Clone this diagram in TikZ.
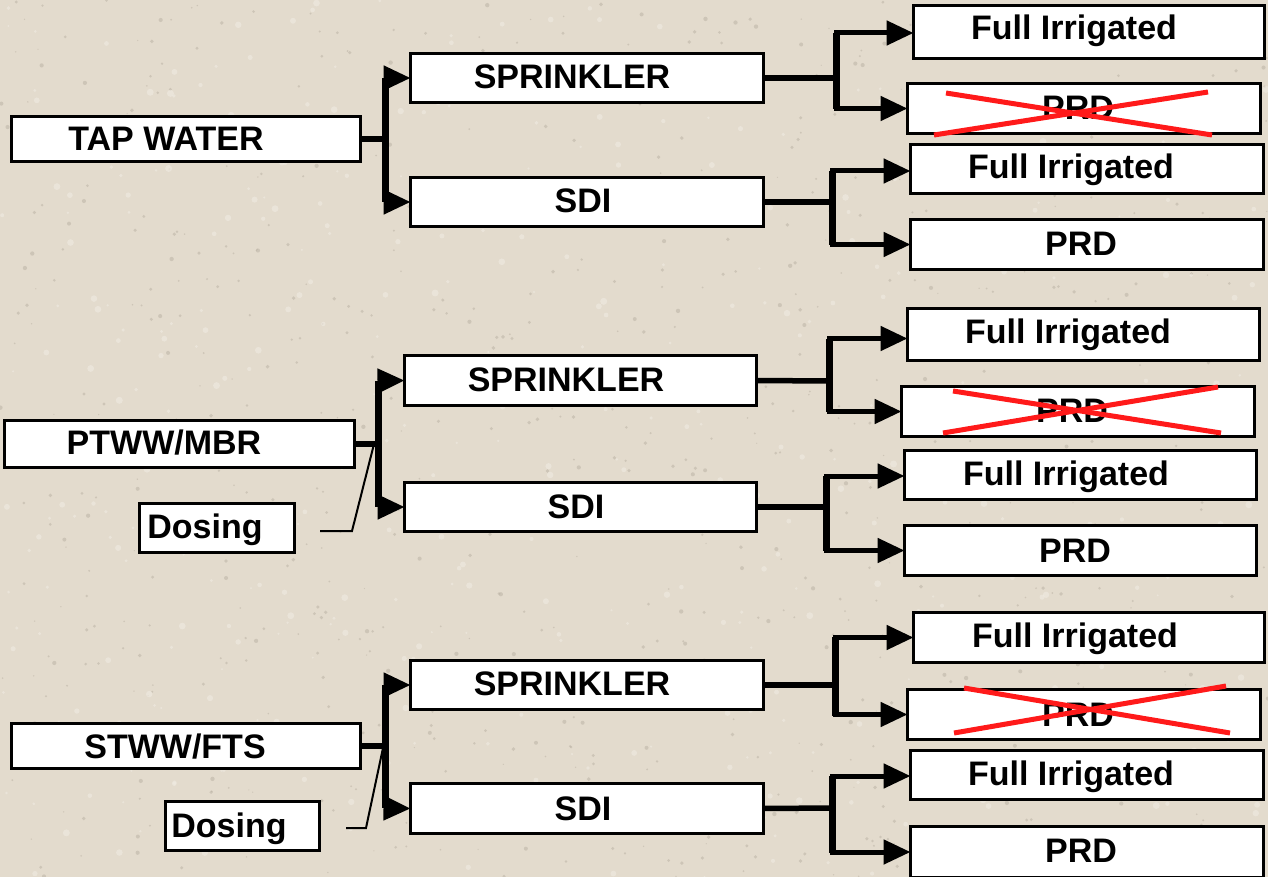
\documentclass[tikz,border=0pt]{standalone}
\usepackage{fontspec}
\setmainfont{Liberation Sans}
\usetikzlibrary{arrows.meta,calc}
\definecolor{bgc}{HTML}{E3DBCD}
\definecolor{speck}{HTML}{B9B0A2}
\definecolor{speckl}{HTML}{F0EBE2}
\definecolor{xred}{HTML}{FF1A1A}
\begin{document}
\begin{tikzpicture}[x=1pt,y=-1pt,
  box/.style={draw=black,line width=3pt,fill=white,inner sep=0pt,outer sep=0pt},
  lbl/.style={font=\fontsize{34}{36}\selectfont\bfseries,inner sep=0pt,text height=24pt,text depth=0pt},
  conn/.style={line width=5.5pt},
  bar/.style={line width=7pt},
  rbar/.style={line width=7pt},
  arr/.style={line width=5pt,-{Triangle[length=27pt,width=24pt]}},
  thinl/.style={line width=2pt},
  xline/.style={draw=xred,line width=5pt}]
\useasboundingbox (0,0) rectangle (1268,877);
\begin{scope}
\clip (0,0) rectangle (1268,877);
\fill[bgc] (0,0) rectangle (1268,877);
\pgfmathsetseed{17}
\foreach \i in {1,...,900}{
  \pgfmathsetmacro\px{rnd*1268}
  \pgfmathsetmacro\py{rnd*877}
  \pgfmathsetmacro\pr{0.6+rnd*1.6}
  \fill[speck,opacity=0.5] (\px,\py) circle[radius=\pr pt];
}
\foreach \i in {1,...,500}{
  \pgfmathsetmacro\px{rnd*1268}
  \pgfmathsetmacro\py{rnd*877}
  \pgfmathsetmacro\pr{1+rnd*2.5}
  \fill[speckl,opacity=0.6] (\px,\py) circle[radius=\pr pt];
}
\end{scope}
% ---------- group 1 ----------
\node[box,minimum width=349pt,minimum height=45pt] (tap) at (186,139) {};
\node[box,minimum width=353pt,minimum height=49pt] (spr1) at (587,78) {};
\node[box,minimum width=353pt,minimum height=49pt] (sdi1) at (587,202) {};
\node[box,minimum width=351pt,minimum height=53pt] (fi1a) at (1089,32) {};
\node[box,minimum width=353pt,minimum height=50pt] (prd1a) at (1084,108.5) {};
\node[box,minimum width=353pt,minimum height=49pt] (fi1b) at (1087,169) {};
\node[box,minimum width=353pt,minimum height=50pt] (prd1b) at (1087,244.5) {};
\node[lbl] (tapl) at (166,139) {TAP WATER};
\node[lbl] (spr1l) at (572,77) {SPRINKLER};
\node[lbl] (sdi1l) at (583,201) {SDI};
\node[lbl] (fi1al) at (1074,28) {Full Irrigated};
\node[lbl] (prd1al) at (1078,108) {PRD};
\node[lbl] (fi1bl) at (1071,167) {Full Irrigated};
\node[lbl] (prd1bl) at (1081,244) {PRD};
\draw[xline] (934,135) -- (1208,92);
\draw[xline] (946,93) -- (1212,135);
\coordinate (b1t) at (385,78);
\coordinate (b1b) at (385,202);
\draw[conn] (tap.east) -- (tap.east -| b1t);
\draw[bar] (b1t) -- (b1b);
\draw[arr] (b1t) -- (spr1.west);
\draw[arr] (b1b) -- (sdi1.west);
\coordinate (s1) at (836,78);
\draw[conn] (spr1.east) -- (s1);
\draw[rbar] (836,33) -- (836,109);
\draw[arr] (s1) |- ([yshift=-1pt]fi1a.west);
\draw[arr] (s1) |- (prd1a.west);
\coordinate (s2) at (832,202);
\draw[conn] (sdi1.east) -- (s2);
\draw[rbar] (832,171) -- (832,245);
\draw[arr] (s2) |- ([yshift=-2pt]fi1b.west);
\draw[arr] (s2) |- (prd1b.west);
% ---------- group 2 ----------
\node[box,minimum width=350pt,minimum height=47pt] (ptww) at (179.5,444) {};
\node[box,minimum width=155pt,minimum height=49pt] (dos2) at (217,528) {};
\node[box,minimum width=352pt,minimum height=50pt] (spr2) at (580.5,380.5) {};
\node[box,minimum width=352pt,minimum height=49pt] (sdi2) at (580.5,507) {};
\node[box,minimum width=352pt,minimum height=52pt] (fi2a) at (1083.5,334.5) {};
\node[box,minimum width=353pt,minimum height=50pt] (prd2a) at (1078,411.5) {};
\node[box,minimum width=352pt,minimum height=49pt] (fi2b) at (1080.5,475) {};
\node[box,minimum width=352pt,minimum height=50pt] (prd2b) at (1080.5,550.5) {};
\node[lbl] (ptwwl) at (164,442) {PTWW/MBR};
\node[lbl] (dos2l) at (205,526) {Dosing};
\node[lbl] (spr2l) at (566,379) {SPRINKLER};
\node[lbl] (sdi2l) at (576,506) {SDI};
\node[lbl] (fi2al) at (1068,331) {Full Irrigated};
\node[lbl] (prd2al) at (1072,410) {PRD};
\node[lbl] (fi2bl) at (1066,473) {Full Irrigated};
\node[lbl] (prd2bl) at (1075,550) {PRD};
\draw[xline] (943,433) -- (1218,387);
\draw[xline] (953,391) -- (1221,433);
\coordinate (b2t) at (378,381);
\coordinate (b2b) at (378,507);
\draw[conn] (ptww.east) -- (ptww.east -| b2t);
\draw[bar] (b2t) -- (b2b);
\draw[arr] (b2t) -- (spr2.west);
\draw[arr] (b2b) -- (sdi2.west);
\coordinate (d2a) at (320,531);
\coordinate (d2b) at (352,531);
\coordinate (d2c) at (374,444);
\draw[thinl] (d2a) -- (d2b) -- (d2c);
\coordinate (s3) at (829,381);
\draw[conn] (spr2.east) -- (s3);
\draw[rbar] (829,339) -- (829,412);
\draw[arr] (s3) |- ([yshift=-4pt]fi2a.west);
\draw[arr] (s3) |- (prd2a.west);
\coordinate (s4) at (826,507);
\draw[conn] (sdi2.east) -- (s4);
\draw[rbar] (826,476) -- (826,551);
\draw[arr] (s4) |- ([yshift=-1pt]fi2b.west);
\draw[arr] (s4) |- (prd2b.west);
% ---------- group 3 ----------
\node[box,minimum width=349pt,minimum height=45pt] (stww) at (186,746) {};
\node[box,minimum width=154pt,minimum height=49pt] (dos3) at (242.5,826) {};
\node[box,minimum width=353pt,minimum height=49pt] (spr3) at (587,685) {};
\node[box,minimum width=353pt,minimum height=50pt] (sdi3) at (587,808.5) {};
\node[box,minimum width=351pt,minimum height=50pt] (fi3a) at (1089,637.5) {};
\node[box,minimum width=353pt,minimum height=50pt] (prd3a) at (1084,714.5) {};
\node[box,minimum width=353pt,minimum height=49pt] (fi3b) at (1087,775) {};
\node[box,minimum width=353pt,minimum height=51pt] (prd3b) at (1087,852) {};
\node[lbl] (stwwl) at (175,746) {STWW/FTS};
\node[lbl] (dos3l) at (229,825) {Dosing};
\node[lbl] (spr3l) at (572,683) {SPRINKLER};
\node[lbl] (sdi3l) at (583,808) {SDI};
\node[lbl] (fi3al) at (1075,635) {Full Irrigated};
\node[lbl] (prd3al) at (1078,714) {PRD};
\node[lbl] (fi3bl) at (1071,773) {Full Irrigated};
\node[lbl] (prd3bl) at (1081,850) {PRD};
\draw[xline] (954,733) -- (1226,686);
\draw[xline] (964,688) -- (1230,733);
\coordinate (b3t) at (385,685);
\coordinate (b3b) at (385,808);
\draw[conn] (stww.east) -- (stww.east -| b3t);
\draw[bar] (b3t) -- (b3b);
\draw[arr] (b3t) -- (spr3.west);
\draw[arr] (b3b) -- (sdi3.west);
\coordinate (d3a) at (346,828);
\coordinate (d3b) at (366,828);
\coordinate (d3c) at (383,748);
\draw[thinl] (d3a) -- (d3b) -- (d3c);
\coordinate (s5) at (835,685);
\draw[conn] (spr3.east) -- (s5);
\draw[rbar] (835,637) -- (835,716);
\draw[arr] (s5) |- (fi3a.west);
\draw[arr] (s5) |- (prd3a.west);
\coordinate (s6) at (832,808);
\draw[conn] (sdi3.east) -- (s6);
\draw[rbar] (832,776) -- (832,853);
\draw[arr] (s6) |- ([yshift=-1pt]fi3b.west);
\draw[arr] (s6) |- (prd3b.west);
\end{tikzpicture}
\end{document}
